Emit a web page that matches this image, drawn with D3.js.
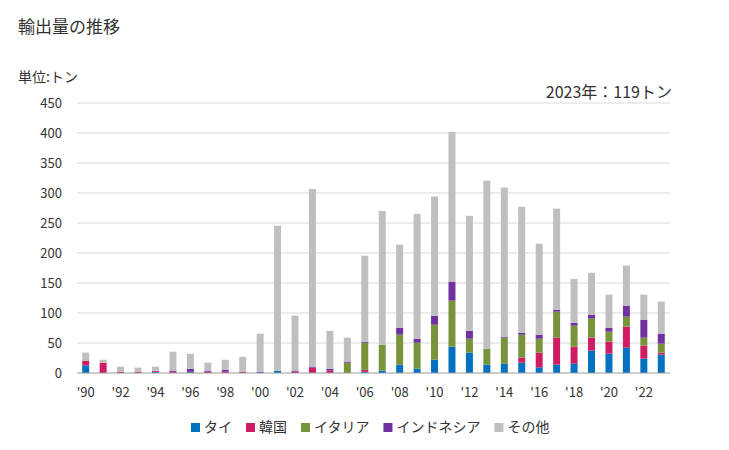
<!DOCTYPE html>
<html>
<head>
<meta charset="utf-8">
<script src="https://cdn.jsdelivr.net/npm/d3@7"></script>
<style>
  body { margin: 0; background: #fff; }
  svg { font-family: "Noto Sans CJK JP", "Noto Sans", sans-serif; }
</style>
</head>
<body>
<div id="chart"></div>
<script>
var years = d3.range(1990, 2024);
var seriesNames = ["タイ", "韓国", "イタリア", "インドネシア", "その他"];
var colors = ["#0070c0", "#d01c64", "#77933c", "#7030a0", "#bfbfbf"];

var thai = [12.8, 0, 0, 0, 2, 0, 2, 0, 0, 0, 0, 3.9, 0, 0, 0, 0, 2, 3.9, 13.9, 7.2,
    22.2, 43.9, 33.9, 13.9, 15.6, 17.2, 9.4, 13.9, 15.6, 37.2, 32.2, 42.2, 23.9, 30.6];
var korea = [7.7, 17.2, 2.2, 2.2, 1.5, 2, 0, 2, 2, 2, 0, 0, 2, 8.9, 3.9, 0, 3.3, 0, 0, 0,
    0, 0, 0, 0, 0, 8.3, 24.4, 45, 28.3, 21.7, 20, 35, 21.7, 3.3];
var italy = [0, 0, 0, 0, 0, 0, 0, 0, 0, 0, 0, 0, 0, 0, 0, 17.2, 45, 43.3, 50, 43.3,
    58.3, 76.7, 23.3, 26.7, 43.3, 38.3, 23.3, 43.3, 35, 31.7, 16.7, 16.7, 13.3, 15];
var indonesia = [0, 0, 0, 0, 0, 2, 5, 2, 3.5, 0, 2, 0, 2, 1.7, 3.3, 1.7, 1.7, 0, 11.7, 6.7,
    15, 31.7, 13.3, 0, 1.7, 3.3, 6.7, 3.3, 5, 6.7, 6.7, 18.3, 30, 16.7];
var others = [13.5, 4.8, 8.3, 6.7, 7, 31.5, 25, 13.2, 16.5, 25, 63.5, 241.6, 91.5, 296, 63, 40, 143.5, 223, 138.4, 208,
    198.5, 249.7, 191.5, 280, 248.4, 210, 151.7, 168.5, 73, 69.7, 55, 66.8, 41.6, 53.4];
var yTicks = [0, 50, 100, 150, 200, 250, 300, 350, 400, 450];

var width = 729, height = 450;
var margin = { left: 77, right: 59, top: 103, bottom: 77 };

var rows = years.map(function (y, i) {
    return { year: y, "タイ": thai[i], "韓国": korea[i], "イタリア": italy[i], "インドネシア": indonesia[i], "その他": others[i] };
});
var stacked = d3.stack().keys(seriesNames)(rows);

var svg = d3.select("#chart").append("svg").attr("width", width).attr("height", height);

var xScale = d3.scaleBand()
    .domain(years)
    .range([margin.left, width - margin.right])
    .paddingInner(0.6)
    .paddingOuter(0.3);
var yScale = d3.scaleLinear()
    .domain([0, 450])
    .range([height - margin.bottom, margin.top]);

// grid
svg.append("g").selectAll("line")
    .data(yTicks.slice(1))
    .enter().append("line")
    .attr("x1", margin.left).attr("x2", width - margin.right)
    .attr("y1", function (d) { return yScale(d); })
    .attr("y2", function (d) { return yScale(d); })
    .attr("stroke", "#d9d9d9").attr("stroke-width", 1);

svg.append("g").selectAll("text")
    .data(yTicks)
    .enter().append("text")
    .attr("x", 62)
    .attr("y", function (d) { return yScale(d); })
    .attr("dy", "0.35em")
    .attr("text-anchor", "end")
    .style("font-size", "13px")
    .attr("fill", "#333")
    .text(function (d) { return d; });

// bars
svg.append("g").selectAll("g")
    .data(stacked)
    .enter().append("g")
    .attr("fill", function (d, i) { return colors[i]; })
    .selectAll("rect")
    .data(function (d) { return d; })
    .enter().append("rect")
    .attr("x", function (d) { return xScale(d.data.year); })
    .attr("width", xScale.bandwidth())
    .attr("y", function (d) { return yScale(d[1]); })
    .attr("height", function (d) { return yScale(d[0]) - yScale(d[1]); });

// baseline
svg.append("line")
    .attr("x1", margin.left).attr("x2", width - margin.right)
    .attr("y1", yScale(0)).attr("y2", yScale(0))
    .attr("stroke", "#999").attr("stroke-width", 1);

// x labels
svg.append("g").selectAll("text")
    .data(years.filter(function (y) { return y % 2 === 0; }))
    .enter().append("text")
    .attr("x", function (d) { return xScale(d) + xScale.bandwidth() / 2; })
    .attr("y", 397)
    .attr("text-anchor", "middle")
    .style("font-size", "13px")
    .attr("fill", "#333")
    .text(function (d) { return "'" + String(d).slice(2); });

// titles
svg.append("text").attr("x", 18).attr("y", 33)
    .style("font-size", "17px").attr("fill", "#333").text("輸出量の推移");
svg.append("text").attr("x", 18).attr("y", 82)
    .style("font-size", "14px").attr("fill", "#333").text("単位:トン");
svg.append("text").attr("x", 672).attr("y", 98)
    .attr("text-anchor", "end")
    .style("font-size", "16px").attr("fill", "#333").text("2023年：119トン");

// legend
var legend = svg.append("g");
var lx = 191;
seriesNames.forEach(function (name, i) {
    legend.append("rect")
        .attr("x", lx).attr("y", 423)
        .attr("width", 9).attr("height", 9)
        .attr("fill", colors[i]);
    var t = legend.append("text")
        .attr("x", lx + 13).attr("y", 432)
        .style("font-size", "14px").attr("fill", "#333")
        .text(name);
    lx += 13 + t.node().getComputedTextLength() + 14;
});
</script>
</body>
</html>
